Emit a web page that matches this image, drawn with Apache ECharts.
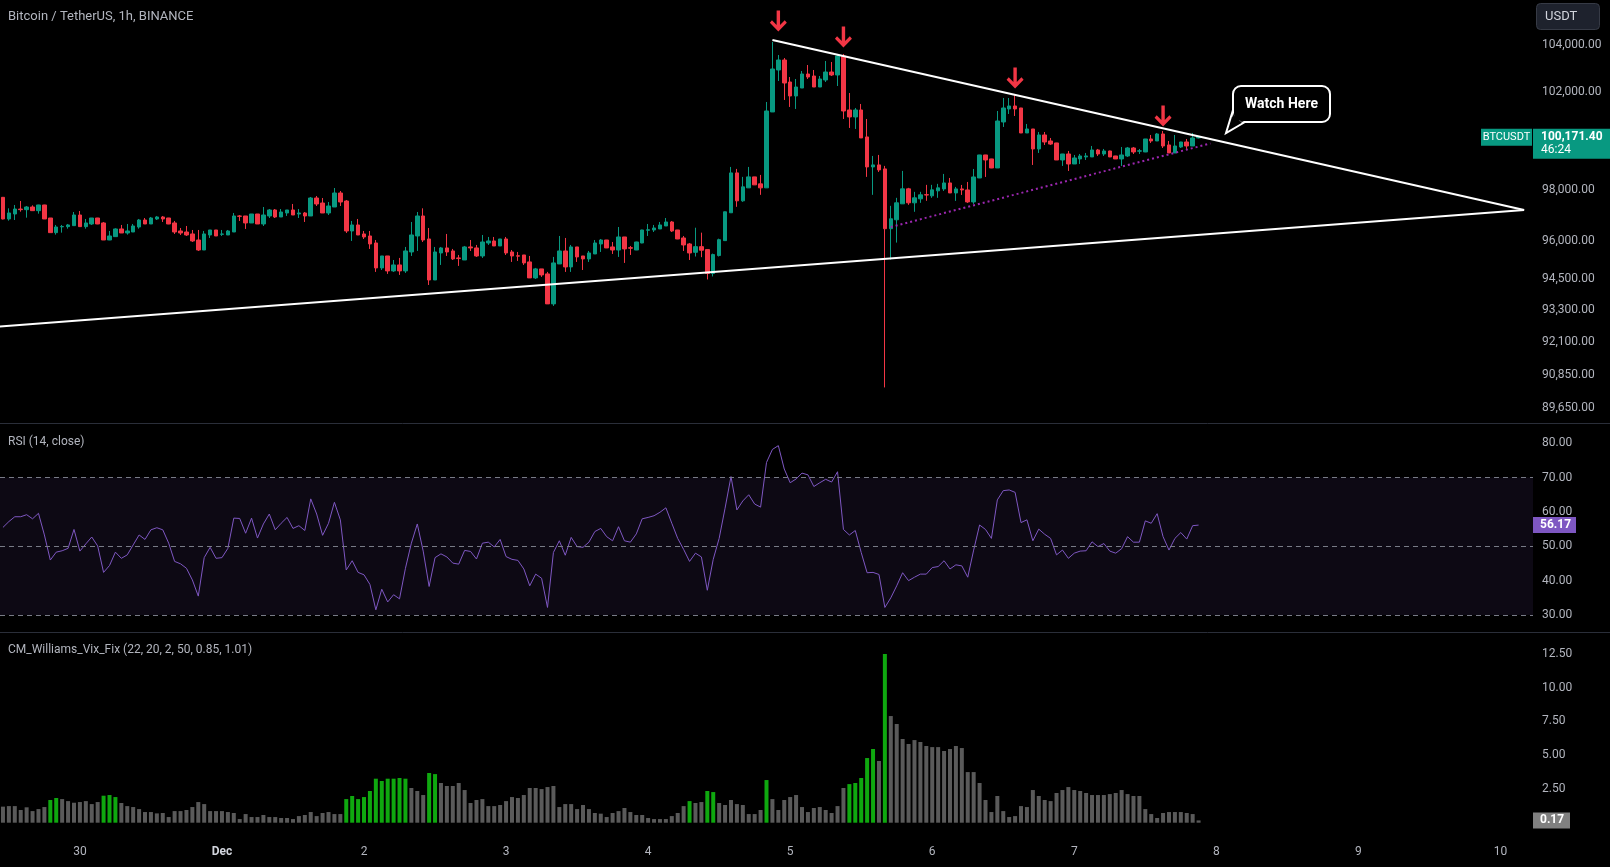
<!DOCTYPE html>
<html><head><meta charset="utf-8">
<script src="https://cdn.jsdelivr.net/npm/echarts@6/dist/echarts.min.js"></script>
<style>html,body{margin:0;padding:0;background:#000;}#c{width:1610px;height:867px;}</style>
</head><body><div id="c"></div>
<script>
// ---------- DATA ----------
const startHourUTC = Date.UTC(2024, 10, 29, 11); // first hourly slot: Nov 29 11:00
const slotCount = 259;                             // hourly slots incl. empty future space
const dayTickDates  = ['2024-11-30','2024-12-01','2024-12-02','2024-12-03','2024-12-04','2024-12-05','2024-12-06','2024-12-07','2024-12-08','2024-12-09','2024-12-10'];
const dayTickLabels = ['30','Dec','2','3','4','5','6','7','8','9','10'];

const opens = [97718,96856,97054,97250,97226,97332,97186,97412,96895,96316,
96545,96553,96592,97014,96553,96658,96895,96698,96027,96159,
96461,96303,96342,96539,96816,96658,96856,96935,96895,96698,
96382,96342,96264,96027,95635,96224,96421,96250,96224,96342,
96975,96975,96698,97054,96658,96975,97213,96935,97094,97213,
97054,97094,96975,97691,97491,97094,97332,97891,97571,96382,
96619,96264,96185,95910,94936,95402,94820,95052,94820,95558,
96185,96975,96067,94469,95519,95715,95597,95325,95245,95754,
95715,95402,95910,95989,95793,96067,95558,95410,95441,95169,
94549,94898,94704,93550,95091,95597,94975,95754,95402,95286,
95480,95871,96027,95754,95635,96146,95725,95635,95910,96410,
96421,96461,96579,96737,96421,96107,95871,95545,95766,95650,
94720,95418,96002,97102,98699,97578,98097,98538,98257,98097,
101190,102942,103364,102438,101854,102186,102774,102690,102228,102522,
102857,102732,103533,101272,100983,101272,100161,98940,99022,98860,
96471,96825,97458,98057,97498,97657,97825,97777,97977,98054,
98294,97893,98054,98013,97534,98495,99426,99264,98898,100776,
101314,101438,101355,100324,100488,99670,100242,99996,99915,99222,
99466,99060,99264,99345,99345,99629,99466,99588,99385,99264,
99385,99710,99580,99548,100078,99996,100283,99833,99507,99751,
99955,99792,100120];
const highs = [97730,97279,97412,97571,97372,97398,97420,97420,96895,96619,
96619,96658,97133,97173,96856,96895,96900,96737,96382,96487,
96619,96658,96658,96856,96895,96935,96975,96975,96900,96777,
96500,96579,96421,96421,96382,96421,96421,96421,96421,97094,
97014,96975,97054,97054,97332,97252,97252,97252,97213,97452,
97252,97133,97731,97771,97691,97531,98091,97971,97611,96777,
96856,96382,96382,96027,95402,95402,95245,95325,95754,96737,
97133,97279,96500,95754,95754,96264,95676,95441,95793,96027,
95832,96224,96146,96146,96067,96146,95635,95558,95441,95402,
94936,94898,94781,95364,96185,96107,95832,95754,95402,95597,
96027,96067,96030,95949,96539,96146,95793,95960,96430,96658,
96619,96737,96895,96777,96425,96185,95910,96510,96316,95650,
95494,96079,97150,98940,98860,98538,98940,98540,98617,101604,
104128,103576,103449,102648,102564,102900,103153,102942,102690,103322,
103280,103618,103618,101978,101355,101521,100900,99386,99427,98981,
97378,97697,98779,98097,97937,97937,98217,98217,98257,98657,
98495,98134,98214,98334,98858,99430,99430,99270,101230,101770,
101770,101895,101360,100694,100490,100365,100365,100119,99920,99470,
99588,99426,99466,99507,99792,99670,99670,99600,99390,99751,
99751,99751,99670,100080,100242,100324,100406,99996,100242,99960,
100078,100324,100200];
const lows = [96840,96790,96816,97146,96908,97186,97067,96856,96316,96238,
96316,96473,96592,96553,96473,96619,96650,96027,96020,96159,
96303,96238,96342,96473,96658,96658,96816,96737,96650,96264,
96224,96185,95949,95597,95635,96107,96185,96185,96224,96342,
96777,96461,96698,96658,96579,96895,96895,96935,96975,97014,
96895,96737,96975,97372,97094,97014,97332,97372,96303,95989,
96224,96067,95676,94781,94856,94704,94781,94665,94742,95402,
95597,95949,94276,94469,95052,95402,95245,95014,95245,95597,
95364,95325,95832,95793,95793,95441,95169,95208,95052,94549,
94511,94588,93550,93472,95091,94781,94781,95169,94856,95169,
95480,95558,95710,95480,95364,95130,95441,95630,95900,96185,
96342,96461,96579,96342,96060,95597,95245,95380,95354,94489,
94606,95380,96000,97102,97339,97538,98097,98210,97817,98097,
101190,102480,101687,101397,101314,102186,102564,102228,102228,102438,
102690,102270,100900,100530,100489,100120,98538,97817,98738,90407,
95260,95925,97458,97418,97141,97498,97578,97697,97697,97973,
97893,97575,97813,97494,97455,98490,98535,98890,98898,100571,
101106,101024,100320,100324,99020,99507,99833,99833,99220,98980,
98777,99060,99060,99222,99345,99385,99385,99340,99260,98980,
99345,99466,99466,99540,99915,99996,99710,99507,99507,99710,
99670,99792,100100];
const closes = [96856,97094,97252,97226,97332,97186,97412,96856,96316,96539,
96560,96619,97014,96553,96698,96895,96658,96027,96185,96461,
96303,96382,96579,96816,96658,96895,96935,96856,96658,96342,
96303,96224,95989,95635,96264,96421,96185,96264,96382,96975,
96960,96698,97054,96658,97014,97213,96935,97133,97213,97014,
97094,96975,97691,97452,97094,97372,97891,97531,96382,96619,
96224,96146,95871,94936,95402,94820,95052,94820,95597,96224,
96975,96027,94469,95558,95715,95558,95286,95300,95754,95715,
95402,95949,95989,95793,96067,95519,95402,95395,95130,94549,
94898,94665,93550,95130,95597,94975,95754,95364,95286,95519,
95910,96027,95715,95635,96146,95676,95705,95949,96421,96430,
96500,96619,96737,96382,96067,95832,95519,95766,95626,94720,
95456,96040,97141,98699,97578,98137,98538,98217,98097,101231,
102984,103364,102396,101854,102228,102774,102648,102228,102564,102857,
102732,103533,101231,100983,101272,100120,98940,99022,98820,96471,
96864,97498,98057,97498,97697,97817,97810,98017,98097,98294,
97893,98054,98013,97534,98535,99426,99222,98898,100817,101355,
101438,101314,100324,100488,99670,100242,99955,99870,99222,99466,
99060,99304,99385,99385,99629,99466,99588,99345,99264,99426,
99710,99548,99595,100078,99996,100283,99792,99507,99792,99955,
99792,100119,100171.4];

const rsi = [55.5,57.2,58.6,58.6,59.2,58.0,59.6,53.3,46.0,48.3,
48.7,49.4,54.9,48.6,50.7,52.7,50.1,42.4,44.4,48.3,
46.5,47.5,50.4,53.3,52.0,54.8,55.4,54.8,50.9,45.6,
44.9,43.6,40.2,35.5,46.7,49.7,46.5,46.7,49.4,58.2,
58.1,53.8,58.2,52.4,56.5,59.4,54.8,56.7,58.4,55.2,
56.0,54.6,63.8,59.4,53.2,56.7,62.8,57.7,43.1,45.8,
42.4,41.7,38.9,31.5,37.5,33.8,35.9,34.7,43.6,50.9,
56.5,48.6,38.3,46.7,47.8,46.9,45.1,44.8,48.8,48.5,
46.3,50.9,51.2,49.8,52.0,47.0,46.2,45.9,43.4,38.5,
41.9,40.7,32.2,48.2,51.6,47.4,52.6,49.9,49.7,51.2,
54.3,55.2,
52.8,51.6,55.7,51.6,51.2,53.6,58.0,58.4,58.9,59.9,
61.2,56.7,52.3,49.1,45.6,48.0,46.9,37.2,46.2,52.3,
61.1,70.3,60.6,63.2,65.0,62.3,61.4,74.4,78.2,79.3,
72.5,68.5,69.6,71.3,70.8,67.4,68.5,69.5,68.7,71.7,
54.9,53.3,54.6,48.2,42.3,42.4,41.8,32.2,35.0,38.5,
42.3,40.0,41.0,41.9,41.9,43.8,44.1,45.8,43.4,44.6,
44.3,41.0,48.9,56.2,54.9,52.3,63.5,66.2,66.4,65.7,
56.9,57.7,51.6,55.0,53.5,52.3,47.5,48.9,46.5,48.0,
48.6,48.7,51.3,49.9,50.8,48.6,48.0,49.3,52.8,51.2,
51.2,57.4,56.7,59.5,52.8,48.9,52.3,54.0,52.1,56.0,
56.17];

const vix = [1.19,1.23,1.23,0.94,1.14,0.86,1.01,1.16,1.68,1.83,
1.75,1.60,1.48,1.53,1.60,1.38,1.53,2.00,2.05,1.90,
1.46,1.23,1.16,1.01,0.79,0.79,0.69,0.72,0.42,0.86,
0.86,0.94,1.16,1.53,1.38,0.86,0.86,0.86,0.79,0.72,
0.27,0.64,0.42,0.42,0.57,0.42,0.42,0.35,0.35,0.27,
0.49,0.57,0.79,0.49,0.72,0.79,0.64,0.64,1.75,1.98,
1.75,1.90,2.35,3.26,3.09,3.26,3.26,3.31,3.26,2.57,
2.35,2.05,3.68,3.60,2.94,2.72,2.72,2.94,2.42,1.46,
1.68,1.75,1.23,1.23,1.31,1.60,1.90,1.83,2.05,2.57,
2.57,2.49,2.64,2.72,1.16,1.38,1.38,1.01,1.31,1.01,
0.72,0.67,0.42,0.72,0.86,1.09,0.79,0.57,0.57,0.35,
0.27,0.27,0.27,0.49,0.72,1.23,1.60,1.46,1.53,2.35,
2.27,1.46,1.31,1.68,1.38,1.31,0.64,0.64,0.94,3.16,
1.75,0.94,1.68,1.90,2.05,1.16,0.79,1.09,1.16,0.94,
0.72,1.23,2.57,2.86,2.94,3.31,4.79,5.46,4.57,12.49,
7.90,7.31,6.20,5.83,6.12,5.98,5.68,5.60,5.60,5.31,
5.46,5.68,5.53,3.75,3.75,2.94,1.68,0.79,1.98,0.86,
0.42,0.49,1.23,1.16,2.42,1.98,1.68,1.60,2.20,2.42,
2.64,2.42,2.35,2.20,2.05,2.05,2.05,2.12,2.20,2.42,
2.12,1.98,1.98,1.01,0.64,0.35,0.72,0.79,0.79,0.79,
0.72,0.64,0.17];
const vixSignalIdx = [8,9,17,18,19,58,59,60,61,62,63,64,65,66,67,68,72,73,116,119,120,129,143,144,145,146,147,149];

const priceTicks = [89650,90850,92100,93300,94500,96000,98000,102000,104000];
const rsiTicks = [30,40,50,60,70,80];
const vixTicks = [2.5,5,7.5,10,12.5];
const rsiLevels = [70,50,30];

// drawings: [slot index, price]
const resistanceLine = [[130,104213],[257,97213]];
const supportLine = [[-1,92683],[257,97213]];
const innerSupport = [[150,96539],[204,99894]];
const arrowIdx = [131,142,171,196];
const arrowPrice = [105026,104341,102606,101023];

const lastPrice = 100171.40;
const lastPriceText = '100,171.40';
const countdownText = '46:24';
const rsiLast = 56.17;
const vixLast = 0.17;

// ---------- BUILD ----------
function pad(n){return (n<10?'0':'')+n;}
const categories = [];
for (let i = 0; i < slotCount; i++) {
  const d = new Date(startHourUTC + i*3600000);
  categories.push(d.getUTCFullYear()+'-'+pad(d.getUTCMonth()+1)+'-'+pad(d.getUTCDate())+' '+pad(d.getUTCHours())+':00');
}
const candles = opens.map((o,i)=>[o, closes[i], lows[i], highs[i]]);
const vixData = vix.map((v,i)=>({value:v, itemStyle:{color: vixSignalIdx.indexOf(i)>=0 ? '#0fa80f' : '#5a5a5a'}}));

const FONT = 'Roboto, "Noto Sans", sans-serif';
const TXT = '#b2b5be';
const fmtPrice = v => Number(v).toLocaleString('en-US',{minimumFractionDigits:2, maximumFractionDigits:2});

const chart = echarts.init(document.getElementById('c'), null, {renderer:'canvas'});
const hiddenX = (g)=>({type:'category', gridIndex:g, data:categories, boundaryGap:true, axisLine:{show:false}, axisTick:{show:false}, axisLabel:{show:false}, splitLine:{show:false}});

const option = {
  backgroundColor:'#000000',
  animation:false,
  textStyle:{fontFamily:FONT},
  grid:[
    {left:0, right:77, top:0, height:423},
    {left:0, right:77, top:424, height:208},
    {left:0, right:77, top:633, height:206}
  ],
  xAxis:[
    hiddenX(0), hiddenX(1),
    {type:'category', gridIndex:2, data:categories, boundaryGap:true,
     axisLine:{show:false}, axisTick:{show:false}, splitLine:{show:false},
     axisLabel:{show:true, margin:7, color:TXT, fontSize:12, fontFamily:FONT,
       interval:(idx,val)=>val.slice(11)==='00:00',
       formatter:(val)=>{const k=dayTickDates.indexOf(val.slice(0,10)); if(k<0||val.slice(11)!=='00:00') return ''; return k===1?'{m|'+dayTickLabels[k]+'}':dayTickLabels[k];},
       rich:{m:{fontWeight:'bold', color:'#d1d4dc', fontSize:12, fontFamily:FONT}}}}
  ],
  yAxis:[
    {type:'log', logBase:10, gridIndex:0, position:'right', min:89101, max:105932, scale:true,
     axisLine:{show:false}, axisTick:{show:false}, splitLine:{show:false},
     axisLabel:{customValues:priceTicks, formatter:fmtPrice, color:TXT, fontSize:12, margin:9, fontFamily:FONT}},
    {type:'value', gridIndex:1, position:'right', min:25.05, max:85.6,
     axisLine:{show:false}, axisTick:{show:false}, splitLine:{show:false},
     axisLabel:{customValues:rsiTicks, formatter:v=>Number(v).toFixed(2), color:TXT, fontSize:12, margin:9, fontFamily:FONT}},
    {type:'value', gridIndex:2, position:'right', min:-1.207, max:14.052,
     axisLine:{show:false}, axisTick:{show:false}, splitLine:{show:false},
     axisLabel:{customValues:vixTicks, formatter:v=>Number(v).toFixed(2), color:TXT, fontSize:12, margin:9, fontFamily:FONT}}
  ],
  series:[
    {type:'candlestick', xAxisIndex:0, yAxisIndex:0, data:candles, barWidth:4,
     itemStyle:{color:'#089981', color0:'#f23645', borderColor:'#089981', borderColor0:'#f23645', borderWidth:1},
     markPoint:{silent:true, symbol:'path://M6.4,0 L9.6,0 L9.6,13.6 L14,9.2 L16,11.4 L8,19.6 L0,11.4 L2,9.2 L6.4,13.6 Z', symbolSize:[17,21],
       itemStyle:{color:'#f23645'}, label:{show:false},
       data: arrowIdx.map((x,i)=>({coord:[x, arrowPrice[i]]}))}},
    {type:'line', xAxisIndex:0, yAxisIndex:0, data:resistanceLine, showSymbol:false, symbol:'none', z:5,
     lineStyle:{color:'#ffffff', width:2}},
    {type:'line', xAxisIndex:0, yAxisIndex:0, data:supportLine, showSymbol:false, symbol:'none', z:5,
     lineStyle:{color:'#ffffff', width:2}},
    {type:'line', xAxisIndex:0, yAxisIndex:0, data:innerSupport, showSymbol:false, symbol:'none', z:5,
     lineStyle:{color:'#9c27b0', width:2, type:[2,3]}},
    {type:'line', xAxisIndex:1, yAxisIndex:1, data:rsi, showSymbol:false, symbol:'none',
     lineStyle:{color:'#7e57c2', width:1},
     markArea:{silent:true, itemStyle:{color:'rgba(126,87,194,0.1)'}, data:[[{yAxis:30},{yAxis:70}]]},
     markLine:{silent:true, symbol:'none', label:{show:false}, lineStyle:{color:'#787b86', width:1, type:[5,4]},
       data: rsiLevels.map(v=>({yAxis:v}))}},
    {type:'bar', xAxisIndex:2, yAxisIndex:2, data:vixData, barWidth:4}
  ]
};
chart.setOption(option);

// ---------- OVERLAY LABELS (positions from the chart's own scales) ----------
const yP = chart.convertToPixel({yAxisIndex:0}, lastPrice);
const yR = chart.convertToPixel({yAxisIndex:1}, rsiLast);
const yV = chart.convertToPixel({yAxisIndex:2}, vixLast);
const plotRight = 1533;
const g = [];
g.push({type:'line', shape:{x1:0,y1:423.5,x2:1610,y2:423.5}, style:{stroke:'#2a2e39', lineWidth:1}, silent:true});
g.push({type:'line', shape:{x1:0,y1:632.5,x2:1610,y2:632.5}, style:{stroke:'#2a2e39', lineWidth:1}, silent:true});
g.push({type:'text', x:8, y:16.5, style:{text:'Bitcoin / TetherUS, 1h, BINANCE', fill:'#b2b5be', font:'13px '+FONT, verticalAlign:'middle'}});
g.push({type:'text', x:8, y:441.5, style:{text:'RSI (14, close)', fill:'#b2b5be', font:'12px '+FONT, verticalAlign:'middle'}});
g.push({type:'text', x:8, y:649.5, style:{text:'CM_Williams_Vix_Fix (22, 20, 2, 50, 0.85, 1.01)', fill:'#b2b5be', font:'12px '+FONT, verticalAlign:'middle'}});
// USDT
g.push({type:'rect', shape:{x:1536.5,y:3.5,width:63,height:26,r:4}, style:{fill:'#1e222d', stroke:'#363a45', lineWidth:1}});
g.push({type:'text', x:1545, y:16.5, style:{text:'USDT', fill:'#d1d4dc', font:'13px '+FONT, verticalAlign:'middle'}});
// price tag
g.push({type:'rect', shape:{x:plotRight, y:yP-8, width:77, height:30}, style:{fill:'#089981'}});
g.push({type:'text', x:plotRight+8, y:yP, style:{text:lastPriceText, fill:'#ffffff', font:'bold 12px '+FONT, verticalAlign:'middle'}});
g.push({type:'text', x:plotRight+8, y:yP+13, style:{text:countdownText, fill:'#ffffff', font:'12px '+FONT, verticalAlign:'middle'}});
g.push({type:'rect', shape:{x:plotRight-52, y:yP-8, width:51, height:17}, style:{fill:'#089981'}});
g.push({type:'text', x:plotRight-26.5, y:yP+0.5, style:{text:'BTCUSDT', fill:'#ffffff', font:'11px '+FONT, align:'center', verticalAlign:'middle'}});
// rsi tag
g.push({type:'rect', shape:{x:plotRight, y:yR-8, width:43, height:16}, style:{fill:'#7e57c2'}});
g.push({type:'text', x:plotRight+7, y:yR, style:{text:rsiLast.toFixed(2), fill:'#ffffff', font:'bold 12px '+FONT, verticalAlign:'middle'}});
// vix tag
g.push({type:'rect', shape:{x:plotRight, y:yV-8, width:37, height:16}, style:{fill:'#808080'}});
g.push({type:'text', x:plotRight+7, y:yV, style:{text:vixLast.toFixed(2), fill:'#ffffff', font:'bold 12px '+FONT, verticalAlign:'middle'}});
// callout bubble
g.push({type:'rect', z:10, shape:{x:1233,y:86,width:97,height:36,r:8}, style:{fill:'#000000', stroke:'#ffffff', lineWidth:2}});
g.push({type:'polygon', z:11, shape:{points:[[1234.6,111],[1228.5,129.5],[1244,121.2],[1240,121.2],[1234.6,116]]}, style:{fill:'#000000'}});
g.push({type:'polyline', z:12, shape:{points:[[1233,110],[1226,133],[1245,122]]}, style:{stroke:'#ffffff', lineWidth:2, fill:null, lineJoin:'miter'}});
g.push({type:'text', x:1281.5, y:104, z:13, style:{text:'Watch Here', fill:'#ffffff', font:'bold 14px '+FONT, align:'center', verticalAlign:'middle'}});
chart.setOption({graphic:g});
</script>
</body></html>
